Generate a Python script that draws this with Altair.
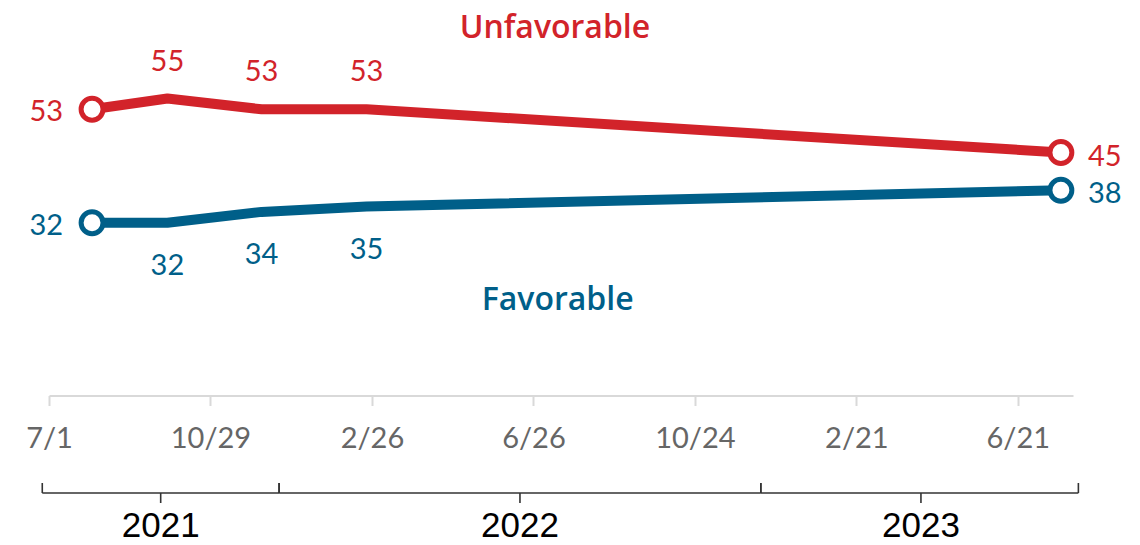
import altair as alt
import pandas as pd

# ---- data ----
dates = ["2021-08-02", "2021-09-27", "2021-12-06", "2022-02-22", "2023-07-23"]
unfavorable = [53, 55, 53, 53, 45]
favorable = [32, 32, 34, 35, 38]
series_names = ["Unfavorable", "Favorable"]
series_colors = ["#D2232A", "#005F89"]
series_label_dates = ["2022-07-12", "2022-07-14"]
series_label_values = [68.0, 17.7]

tick_dates = ["2021-07-01", "2021-10-29", "2022-02-26", "2022-06-26",
              "2022-10-24", "2023-02-21", "2023-06-21"]
domain_dates = ["2021-07-01", "2023-08-01"]

years = ["2021", "2022", "2023"]
year_starts = ["2021-06-26", "2021-12-19", "2022-12-12"]
year_ends = ["2021-12-19", "2022-12-12", "2023-08-05"]
year_mids = ["2021-09-22", "2022-06-16", "2023-04-10"]

FONT = "Lato"


def dt(s):
    y, m, d = (int(v) for v in s.split("-"))
    return alt.DateTime(year=y, month=m, date=d)


def ts(s):
    return s + "T00:00:00"


rows = []
for name, vals in zip(series_names, [unfavorable, favorable]):
    for i, (d, v) in enumerate(zip(dates, vals)):
        role = "first" if i == 0 else ("last" if i == len(dates) - 1 else "mid")
        rows.append({"date": ts(d), "value": v, "series": name, "role": role})
df = pd.DataFrame(rows)

lab_df = pd.DataFrame({"date": [ts(d) for d in series_label_dates],
                       "value": series_label_values,
                       "series": series_names})

yr_df = pd.DataFrame({"year": years,
                      "start": [ts(d) for d in year_starts],
                      "end": [ts(d) for d in year_ends],
                      "mid": [ts(d) for d in year_mids]})

xscale = alt.Scale(domain=[dt(d) for d in domain_dates])
yscale = alt.Scale(domain=[0, 70], nice=False, zero=True)
cscale = alt.Scale(domain=series_names, range=series_colors)

xaxis = alt.Axis(values=[dt(d) for d in tick_dates], format="%-m/%-d",
                 title=None, grid=False, domainColor="#d9d9d9", domainWidth=2,
                 tickColor="#d9d9d9", tickWidth=2, tickSize=10,
                 labelColor="#666666", labelFontSize=29, labelFont=FONT,
                 labelPadding=19, labelFlush=False, labelOverlap=False)

X = alt.X("date:T", scale=xscale, axis=xaxis)
Y = alt.Y("value:Q", scale=yscale, axis=None)
C = alt.Color("series:N", scale=cscale, legend=None)

base = alt.Chart(df).encode(x=X, y=Y, color=C)

lines = base.mark_line(strokeWidth=10, strokeJoin="round").encode(detail="series:N")

points = base.transform_filter("datum.role != 'mid'").mark_point(
    shape="circle", filled=False, fill="white", size=480, strokeWidth=5, opacity=1
)

txt = dict(font=FONT, fontSize=29, baseline="middle")
lab_first = base.transform_filter("datum.role == 'first'").mark_text(
    align="right", dx=-29, dy=3, **txt).encode(text="value:Q")
lab_last = base.transform_filter("datum.role == 'last'").mark_text(
    align="left", dx=27, dy=4, **txt).encode(text="value:Q")
lab_up = base.transform_filter("datum.role == 'mid' && datum.series == 'Unfavorable'").mark_text(
    align="center", dy=-37, **txt).encode(text="value:Q")
lab_down = base.transform_filter("datum.role == 'mid' && datum.series == 'Favorable'").mark_text(
    align="center", dy=43, **txt).encode(text="value:Q")

series_lab = alt.Chart(lab_df).mark_text(
    font="Open Sans", fontSize=32, fontWeight=600, align="center", baseline="middle"
).encode(x=X, y=Y, color=C, text="series:N")

yr = alt.Chart(yr_df)
XS = alt.X("start:T", scale=xscale, axis=xaxis)
BR = dict(color="#333333", strokeWidth=1.6)
br_h = yr.mark_rule(**BR).encode(x=XS, x2="end:T", y=alt.value(475.5))
br_l = yr.mark_rule(**BR).encode(x=XS, y=alt.value(465.5), y2=alt.value(475.5))
br_r = yr.mark_rule(**BR).encode(x=alt.X("end:T", scale=xscale, axis=xaxis),
                                 y=alt.value(465.5), y2=alt.value(475.5))
br_m = yr.mark_rule(**BR).encode(x=alt.X("mid:T", scale=xscale, axis=xaxis),
                                 y=alt.value(475.5), y2=alt.value(485.5))
yr_text = yr.mark_text(font="Liberation Sans", fontSize=35, fontWeight="normal",
                       color="#000000", align="center", baseline="middle").encode(
    x=alt.X("mid:T", scale=xscale, axis=xaxis), y=alt.value(508), text="year:N")

chart = alt.layer(
    lines, points, lab_first, lab_last, lab_up, lab_down, series_lab,
    br_h, br_l, br_r, br_m, yr_text
).properties(
    width=1024, height=378,
    autosize=alt.AutoSizeParams(type="none"),
    padding={"left": 41, "top": 9.5, "right": 59, "bottom": 141.5},
).configure_view(stroke=None)

chart.save("out.html", embed_options={"renderer": "svg", "actions": False})
